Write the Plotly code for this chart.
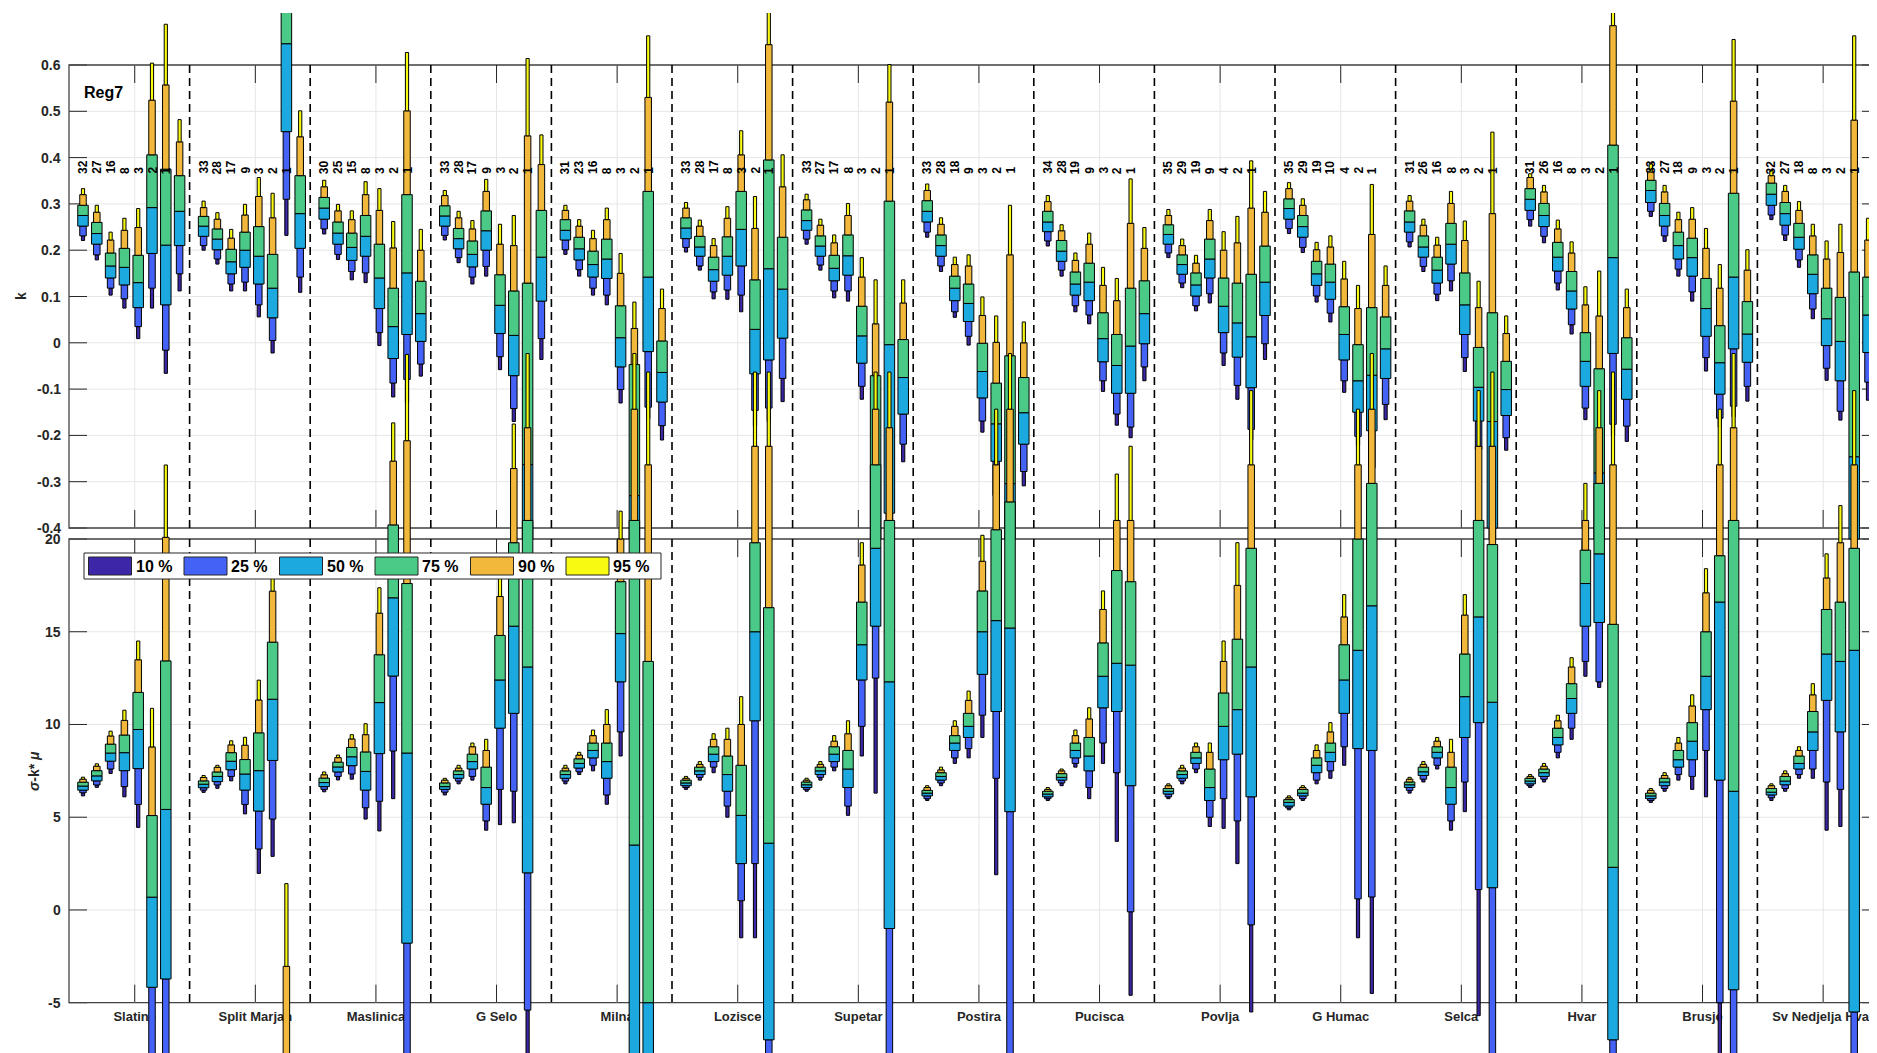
import plotly.graph_objects as go

# ---------------------------------------------------------------- data
stations = ['Slatine', 'Split Marjan', 'Maslinica', 'G Selo', 'Milna', 'Lozisce',
            'Supetar', 'Postira', 'Pucisca', 'Povlja', 'G Humac', 'Selca', 'Hvar',
            'Brusje', 'Sv Nedjelja Hvar']

counts = [[32, 27, 16, 8, 3, 2, 1], [33, 28, 17, 9, 3, 2, 1], [30, 25, 15, 8, 3, 2, 1],
          [33, 28, 17, 9, 3, 2, 1], [31, 23, 16, 8, 3, 2, 1], [33, 28, 17, 8, 3, 2, 1],
          [33, 27, 17, 8, 3, 2, 1], [33, 28, 18, 9, 3, 2, 1], [34, 28, 19, 9, 3, 2, 1],
          [35, 29, 19, 9, 4, 2, 1], [35, 29, 19, 10, 4, 2, 1], [31, 26, 16, 8, 3, 2, 1],
          [31, 26, 16, 8, 3, 2, 1], [33, 27, 18, 9, 3, 2, 1], [32, 27, 18, 8, 3, 2, 1]]

levels = ['10 %', '25 %', '50 %', '75 %', '90 %', '95 %']
k_ticks = [0.6, 0.5, 0.4, 0.3, 0.2, 0.1, 0, -0.1, -0.2, -0.3, -0.4]
s_ticks = [20, 15, 10, 5, 0, -5]

# each box: quantiles 5, 10, 25, 50, 75, 90, 95 %
# --- k (top panel), 8 boxes per station
k_slatine = [[0.221, 0.231, 0.252, 0.275, 0.297, 0.320, 0.333], [0.179, 0.190, 0.213, 0.236, 0.260, 0.282, 0.297],
             [0.103, 0.118, 0.140, 0.166, 0.194, 0.222, 0.239], [0.075, 0.095, 0.125, 0.163, 0.204, 0.243, 0.269],
             [0.009, 0.035, 0.076, 0.130, 0.189, 0.249, 0.290], [0.075, 0.118, 0.193, 0.292, 0.406, 0.524, 0.604],
             [-0.066, -0.016, 0.082, 0.211, 0.375, 0.557, 0.688], [0.112, 0.149, 0.210, 0.284, 0.361, 0.434, 0.482]]
k_split = [[0.200, 0.210, 0.230, 0.252, 0.273, 0.292, 0.306], [0.170, 0.181, 0.201, 0.224, 0.246, 0.267, 0.281],
           [0.112, 0.127, 0.149, 0.175, 0.202, 0.226, 0.245], [0.112, 0.131, 0.163, 0.200, 0.239, 0.276, 0.299],
           [0.056, 0.082, 0.127, 0.187, 0.251, 0.316, 0.357], [-0.022, 0.005, 0.054, 0.118, 0.191, 0.270, 0.323],
           [0.232, 0.310, 0.456, 0.646, 0.850, 0.950, 1.000], [0.109, 0.142, 0.204, 0.279, 0.361, 0.445, 0.501]]
k_maslinica = [[0.235, 0.246, 0.267, 0.291, 0.314, 0.337, 0.351], [0.180, 0.191, 0.213, 0.237, 0.261, 0.285, 0.299],
               [0.136, 0.154, 0.178, 0.206, 0.237, 0.266, 0.285], [0.130, 0.151, 0.187, 0.230, 0.275, 0.320, 0.348],
               [-0.006, 0.022, 0.074, 0.140, 0.213, 0.286, 0.333], [-0.117, -0.087, -0.034, 0.035, 0.118, 0.205, 0.262],
               [-0.130, -0.079, 0.018, 0.151, 0.320, 0.501, 0.627], [-0.072, -0.046, 0.003, 0.063, 0.133, 0.200, 0.245]]
k_gselo = [[0.222, 0.232, 0.252, 0.274, 0.296, 0.318, 0.329], [0.173, 0.184, 0.203, 0.225, 0.247, 0.270, 0.284],
           [0.127, 0.142, 0.164, 0.191, 0.220, 0.246, 0.264], [0.144, 0.165, 0.200, 0.242, 0.285, 0.327, 0.353],
           [-0.058, -0.030, 0.020, 0.081, 0.147, 0.213, 0.256], [-0.170, -0.142, -0.071, 0.016, 0.112, 0.210, 0.275],
           [-0.700, -0.600, -0.500, -0.263, 0.129, 0.447, 0.614], [-0.036, 0.009, 0.090, 0.185, 0.286, 0.385, 0.449]]
k_milna = [[0.191, 0.201, 0.222, 0.243, 0.266, 0.286, 0.297], [0.144, 0.158, 0.179, 0.203, 0.228, 0.252, 0.266],
           [0.103, 0.118, 0.142, 0.169, 0.198, 0.225, 0.243], [0.082, 0.103, 0.139, 0.181, 0.224, 0.266, 0.291],
           [-0.130, -0.101, -0.052, 0.011, 0.080, 0.150, 0.193], [-0.700, -0.600, -0.500, -0.330, -0.047, 0.031, 0.088],
           [-0.163, -0.139, -0.019, 0.142, 0.327, 0.530, 0.663], [-0.210, -0.179, -0.128, -0.064, 0.004, 0.074, 0.116]]
k_lozisce = [[0.196, 0.206, 0.225, 0.248, 0.270, 0.291, 0.303], [0.157, 0.166, 0.187, 0.207, 0.230, 0.252, 0.265],
             [0.095, 0.110, 0.133, 0.158, 0.185, 0.210, 0.225], [0.094, 0.114, 0.146, 0.187, 0.229, 0.269, 0.294],
             [0.067, 0.103, 0.166, 0.245, 0.327, 0.406, 0.458], [-0.180, -0.146, -0.067, 0.029, 0.136, 0.247, 0.316],
             [-0.170, -0.141, -0.037, 0.160, 0.395, 0.644, 0.750], [-0.127, -0.077, 0.010, 0.116, 0.228, 0.337, 0.406]]
k_supetar = [[0.213, 0.224, 0.243, 0.264, 0.287, 0.309, 0.321], [0.157, 0.168, 0.187, 0.209, 0.231, 0.254, 0.267],
             [0.097, 0.112, 0.134, 0.161, 0.189, 0.216, 0.233], [0.090, 0.112, 0.146, 0.188, 0.233, 0.275, 0.301],
             [-0.122, -0.094, -0.044, 0.015, 0.079, 0.142, 0.184], [-0.700, -0.600, -0.500, -0.285, -0.071, 0.041, 0.136],
             [-0.600, -0.500, -0.368, -0.004, 0.306, 0.520, 0.601], [-0.257, -0.219, -0.154, -0.075, 0.007, 0.086, 0.136]]
k_postira = [[0.228, 0.239, 0.261, 0.284, 0.307, 0.329, 0.343], [0.154, 0.166, 0.187, 0.210, 0.233, 0.256, 0.270],
             [0.055, 0.067, 0.091, 0.118, 0.144, 0.169, 0.185], [-0.005, 0.014, 0.046, 0.085, 0.127, 0.166, 0.190],
             [-0.193, -0.169, -0.119, -0.062, -0.001, 0.059, 0.099], [-0.370, -0.330, -0.256, -0.175, -0.087, 0.001, 0.058],
             [-0.700, -0.600, -0.500, -0.304, -0.028, 0.190, 0.297], [-0.309, -0.278, -0.219, -0.151, -0.075, 0.000, 0.045]]
k_pucisca = [[0.209, 0.220, 0.240, 0.261, 0.284, 0.305, 0.318], [0.144, 0.157, 0.176, 0.198, 0.221, 0.242, 0.255],
             [0.067, 0.080, 0.103, 0.127, 0.153, 0.178, 0.194], [0.041, 0.060, 0.091, 0.131, 0.172, 0.213, 0.237],
             [-0.105, -0.082, -0.041, 0.009, 0.065, 0.124, 0.163], [-0.178, -0.154, -0.109, -0.049, 0.018, 0.091, 0.139],
             [-0.205, -0.182, -0.109, -0.007, 0.118, 0.258, 0.354], [-0.082, -0.052, -0.002, 0.063, 0.134, 0.204, 0.249]]
k_povlja = [[0.184, 0.194, 0.213, 0.234, 0.255, 0.275, 0.288], [0.119, 0.129, 0.148, 0.169, 0.190, 0.210, 0.224],
            [0.069, 0.080, 0.101, 0.125, 0.151, 0.172, 0.189], [0.086, 0.106, 0.140, 0.181, 0.224, 0.264, 0.288],
            [-0.049, -0.022, 0.022, 0.079, 0.140, 0.200, 0.240], [-0.122, -0.092, -0.031, 0.043, 0.129, 0.216, 0.273],
            [-0.210, -0.187, -0.097, 0.013, 0.148, 0.291, 0.393], [-0.036, -0.002, 0.059, 0.131, 0.209, 0.282, 0.327]]
k_ghumac = [[0.236, 0.247, 0.267, 0.290, 0.311, 0.333, 0.346], [0.195, 0.206, 0.228, 0.251, 0.275, 0.297, 0.311],
            [0.088, 0.101, 0.124, 0.149, 0.176, 0.201, 0.217], [0.045, 0.064, 0.094, 0.131, 0.170, 0.207, 0.231],
            [-0.107, -0.082, -0.037, 0.018, 0.078, 0.138, 0.176], [-0.221, -0.202, -0.150, -0.082, -0.004, 0.074, 0.124],
            [-0.310, -0.270, -0.190, -0.070, 0.076, 0.234, 0.342], [-0.166, -0.133, -0.077, -0.013, 0.056, 0.124, 0.166]]
k_selca = [[0.207, 0.218, 0.239, 0.261, 0.285, 0.306, 0.318], [0.154, 0.165, 0.185, 0.207, 0.231, 0.254, 0.267],
           [0.091, 0.105, 0.129, 0.157, 0.185, 0.211, 0.228], [0.112, 0.134, 0.170, 0.213, 0.258, 0.301, 0.327],
           [-0.062, -0.032, 0.018, 0.082, 0.151, 0.221, 0.263], [-0.270, -0.230, -0.169, -0.096, -0.010, 0.076, 0.133],
           [-0.600, -0.500, -0.400, -0.170, 0.065, 0.279, 0.455], [-0.232, -0.205, -0.157, -0.101, -0.040, 0.020, 0.058]]
k_hvar = [[0.252, 0.266, 0.286, 0.310, 0.333, 0.357, 0.365], [0.216, 0.230, 0.251, 0.275, 0.301, 0.326, 0.340],
          [0.114, 0.129, 0.155, 0.185, 0.217, 0.246, 0.265], [0.019, 0.039, 0.073, 0.112, 0.154, 0.194, 0.218],
          [-0.166, -0.141, -0.094, -0.040, 0.022, 0.082, 0.121], [-0.700, -0.600, -0.500, -0.281, -0.056, 0.058, 0.155],
          [-0.200, -0.176, -0.023, 0.184, 0.427, 0.685, 0.750], [-0.213, -0.180, -0.122, -0.057, 0.011, 0.076, 0.116]]
k_brusje = [[0.273, 0.284, 0.303, 0.329, 0.351, 0.369, 0.387], [0.219, 0.231, 0.252, 0.275, 0.301, 0.326, 0.340],
            [0.144, 0.159, 0.181, 0.210, 0.239, 0.266, 0.282], [0.090, 0.110, 0.144, 0.184, 0.226, 0.267, 0.292],
            [-0.061, -0.032, 0.014, 0.074, 0.139, 0.204, 0.247], [-0.182, -0.163, -0.111, -0.043, 0.037, 0.118, 0.169],
            [-0.160, -0.137, -0.013, 0.142, 0.323, 0.522, 0.655], [-0.126, -0.094, -0.042, 0.019, 0.089, 0.157, 0.201]]
k_svnedjelja = [[0.266, 0.276, 0.297, 0.321, 0.345, 0.361, 0.372], [0.221, 0.233, 0.254, 0.279, 0.303, 0.327, 0.340],
                [0.163, 0.179, 0.202, 0.228, 0.258, 0.286, 0.305], [0.052, 0.073, 0.106, 0.148, 0.190, 0.231, 0.256],
                [-0.081, -0.055, -0.006, 0.052, 0.118, 0.181, 0.220], [-0.167, -0.148, -0.082, 0.003, 0.098, 0.195, 0.256],
                [-0.700, -0.600, -0.500, -0.246, 0.153, 0.481, 0.663], [-0.124, -0.085, -0.021, 0.060, 0.142, 0.222, 0.269]]

# --- sigma - k*mu (bottom panel), 7 boxes per station
s_slatine = [[6.15, 6.32, 6.46, 6.68, 6.89, 7.05, 7.16], [6.61, 6.74, 6.96, 7.23, 7.51, 7.75, 7.88],
             [7.36, 7.60, 8.02, 8.46, 8.94, 9.38, 9.64], [6.10, 6.65, 7.51, 8.48, 9.43, 10.22, 10.77],
             [4.45, 5.69, 7.62, 9.73, 11.73, 13.49, 14.50], [-9.0, -8.0, -4.17, 0.69, 5.09, 8.79, 10.87],
             [-9.0, -8.0, -3.72, 5.42, 13.43, 20.09, 23.99]]
s_split = [[6.34, 6.46, 6.59, 6.78, 6.96, 7.14, 7.25], [6.56, 6.74, 6.92, 7.20, 7.44, 7.69, 7.80],
           [6.96, 7.20, 7.56, 8.02, 8.48, 8.90, 9.12], [5.18, 5.69, 6.46, 7.33, 8.11, 8.88, 9.31],
           [1.97, 3.29, 5.33, 7.51, 9.55, 11.32, 12.39], [2.89, 4.90, 8.06, 11.36, 14.44, 17.19, 17.93],
           [-12.0, -11.0, -10.0, -9.0, -8.5, -3.04, 1.42]]
s_maslinica = [[6.37, 6.50, 6.65, 6.87, 7.11, 7.29, 7.44], [7.01, 7.20, 7.44, 7.71, 7.97, 8.21, 8.35],
               [7.05, 7.33, 7.78, 8.26, 8.76, 9.22, 9.45], [4.90, 5.51, 6.46, 7.47, 8.52, 9.45, 10.04],
               [4.26, 5.86, 8.43, 11.18, 13.76, 16.00, 17.37], [6.00, 8.57, 12.61, 16.83, 20.76, 24.20, 26.26],
               [-9.0, -8.0, -1.79, 8.46, 17.60, 25.30, 29.95]]
s_gselo = [[6.20, 6.35, 6.50, 6.65, 6.85, 7.00, 7.10], [6.80, 6.95, 7.10, 7.30, 7.50, 7.65, 7.80],
           [7.00, 7.20, 7.60, 8.00, 8.40, 8.80, 9.00], [4.30, 4.80, 5.70, 6.60, 7.70, 8.60, 9.20],
           [4.60, 6.50, 9.80, 12.40, 14.80, 16.90, 18.10], [4.70, 6.40, 10.60, 15.30, 19.80, 23.80, 26.20],
           [-8.0, -5.40, 2.00, 13.10, 21.00, 26.00, 30.00]]
s_milna = [[6.80, 6.95, 7.10, 7.30, 7.50, 7.65, 7.80], [7.30, 7.45, 7.65, 7.90, 8.15, 8.35, 8.50],
           [7.50, 7.80, 8.20, 8.60, 9.00, 9.40, 9.70], [5.70, 6.20, 7.10, 8.00, 9.00, 10.00, 10.80],
           [8.30, 9.60, 12.30, 14.90, 17.70, 20.00, 21.50], [-11.0, -10.0, -9.00, 3.50, 21.00, 27.00, 30.00],
           [-11.0, -10.0, -9.00, -5.00, 13.40, 24.00, 29.00]]
s_lozisce = [[6.50, 6.60, 6.70, 6.85, 7.00, 7.10, 7.20], [7.00, 7.15, 7.30, 7.50, 7.70, 7.85, 8.00],
             [7.40, 7.70, 8.00, 8.40, 8.80, 9.20, 9.50], [5.00, 5.60, 6.40, 7.30, 8.30, 9.20, 9.80],
             [-1.50, 0.50, 2.50, 5.10, 7.80, 10.00, 11.50], [-1.50, 2.50, 10.20, 15.00, 19.80, 25.00, 29.00],
             [-9.0, -8.0, -7.00, 3.60, 16.30, 25.00, 29.00]]
s_supetar = [[6.40, 6.50, 6.60, 6.75, 6.90, 7.00, 7.10], [7.00, 7.15, 7.30, 7.50, 7.70, 7.85, 8.00],
             [7.50, 7.70, 8.00, 8.40, 8.80, 9.10, 9.40], [5.10, 5.60, 6.60, 7.60, 8.60, 9.50, 10.20],
             [8.30, 9.90, 12.40, 14.30, 16.60, 18.60, 19.80], [6.30, 12.50, 15.30, 19.50, 24.00, 27.00, 29.00],
             [-9.0, -8.0, -1.00, 12.30, 21.00, 26.00, 29.00]]
s_postira = [[5.90, 6.00, 6.15, 6.30, 6.45, 6.60, 6.70], [6.70, 6.85, 7.00, 7.20, 7.40, 7.55, 7.70],
             [7.90, 8.20, 8.60, 9.00, 9.40, 9.90, 10.20], [8.20, 8.70, 9.30, 9.90, 10.60, 11.30, 11.80],
             [9.30, 10.50, 12.70, 15.00, 17.20, 18.80, 20.20], [1.90, 7.10, 10.70, 15.60, 20.50, 24.00, 27.00],
             [-9.0, -8.0, 5.30, 15.20, 22.00, 27.00, 30.00]]
s_pucisca = [[5.90, 6.00, 6.10, 6.25, 6.40, 6.50, 6.60], [6.70, 6.85, 7.00, 7.15, 7.35, 7.50, 7.60],
             [7.70, 7.90, 8.20, 8.60, 9.00, 9.40, 9.70], [6.00, 6.60, 7.50, 8.30, 9.30, 10.30, 10.90],
             [7.90, 9.00, 10.90, 12.60, 14.40, 16.20, 17.20], [3.70, 7.40, 10.70, 13.30, 18.30, 21.00, 23.50],
             [-4.60, -0.10, 6.70, 13.20, 17.70, 21.00, 25.00]]
s_povlja = [[6.00, 6.10, 6.25, 6.40, 6.55, 6.70, 6.80], [6.80, 6.95, 7.10, 7.30, 7.50, 7.65, 7.80],
            [7.40, 7.60, 7.90, 8.20, 8.50, 8.80, 9.00], [4.50, 5.00, 5.90, 6.60, 7.60, 8.50, 9.00],
            [4.40, 6.00, 8.10, 9.90, 11.70, 13.40, 14.50], [2.50, 4.80, 8.40, 10.80, 14.60, 17.50, 19.80],
            [-5.50, -0.80, 6.10, 13.10, 19.50, 24.00, 28.00]]
s_ghumac = [[5.40, 5.50, 5.60, 5.80, 5.95, 6.05, 6.15], [5.90, 6.00, 6.15, 6.30, 6.50, 6.60, 6.70],
            [6.80, 7.00, 7.40, 7.80, 8.20, 8.60, 8.90], [7.10, 7.50, 8.00, 8.50, 9.00, 9.60, 10.10],
            [7.80, 8.80, 10.60, 12.40, 14.30, 15.80, 17.00], [-1.50, 0.60, 8.70, 14.00, 20.00, 24.00, 27.00],
            [-4.50, 0.70, 8.60, 16.40, 23.00, 27.00, 30.00]]
s_selca = [[6.30, 6.45, 6.60, 6.75, 6.90, 7.05, 7.15], [6.90, 7.05, 7.25, 7.45, 7.70, 7.85, 8.00],
           [7.60, 7.80, 8.20, 8.50, 8.80, 9.10, 9.30], [4.30, 4.80, 5.70, 6.60, 7.70, 8.50, 9.20],
           [5.30, 6.90, 9.30, 11.50, 13.80, 15.90, 17.00], [-5.70, 1.10, 10.10, 15.80, 21.00, 25.00, 28.00],
           [-9.0, -8.0, 1.20, 11.20, 19.70, 25.00, 29.00]]
s_hvar = [[6.60, 6.70, 6.80, 6.95, 7.10, 7.20, 7.30], [6.90, 7.05, 7.20, 7.40, 7.60, 7.75, 7.90],
          [8.20, 8.50, 8.90, 9.30, 9.80, 10.20, 10.50], [9.20, 9.80, 10.60, 11.40, 12.20, 13.10, 13.60],
          [12.60, 13.40, 15.30, 17.60, 19.40, 21.00, 23.00], [12.00, 12.30, 15.50, 19.20, 23.00, 26.00, 28.00],
          [-9.0, -8.0, -7.00, 2.30, 15.40, 24.00, 29.00]]
s_brusje = [[5.80, 5.90, 6.00, 6.15, 6.30, 6.45, 6.55], [6.40, 6.55, 6.70, 6.90, 7.10, 7.25, 7.40],
            [7.00, 7.30, 7.70, 8.10, 8.60, 9.00, 9.30], [6.50, 7.20, 8.10, 9.10, 10.10, 11.00, 11.60],
            [6.10, 8.60, 10.80, 12.60, 15.00, 17.10, 18.40], [-9.0, -5.00, 7.00, 16.60, 19.10, 24.00, 27.00],
            [-9.0, -8.0, -4.30, 6.40, 21.00, 26.00, 30.00]]
s_svnedjelja = [[5.90, 6.05, 6.20, 6.35, 6.55, 6.70, 6.80], [6.40, 6.55, 6.75, 6.95, 7.20, 7.35, 7.50],
                [7.10, 7.30, 7.60, 7.90, 8.30, 8.60, 8.80], [7.10, 7.60, 8.60, 9.60, 10.70, 11.60, 12.20],
                [4.30, 6.90, 11.30, 13.80, 16.20, 17.90, 19.20], [4.50, 6.50, 9.60, 13.40, 16.60, 19.80, 21.80],
                [-9.0, -8.0, -5.50, 14.00, 19.50, 24.00, 28.00]]

k_panel = [k_slatine, k_split, k_maslinica, k_gselo, k_milna, k_lozisce, k_supetar, k_postira,
           k_pucisca, k_povlja, k_ghumac, k_selca, k_hvar, k_brusje, k_svnedjelja]
s_panel = [s_slatine, s_split, s_maslinica, s_gselo, s_milna, s_lozisce, s_supetar, s_postira,
           s_pucisca, s_povlja, s_ghumac, s_selca, s_hvar, s_brusje, s_svnedjelja]

# ---------------------------------------------------------------- geometry (page pixels)
PW, PH = 1877, 1053            # browser window
OFF = 8                        # default body margin of the html page
FW, FH = PW - OFF, PH - OFF    # figure size so it ends at the window edge
CLIP_TOP = 13                  # page row where everything is cut off at the top
X0, SW = 69.0, 120.6           # left frame, width of one station block
colors = ['#3d26a8', '#4562f6', '#1ca9df', '#4bc986', '#f1b83b', '#f8fa12']
seg_px = [3.2, 6.5, 10.5, 10.5, 6.5, 3.2]
FONT = 'Liberation Sans, Arial, sans-serif'
INK = '#262626'
GRID = '#e6e6e6'


def k_at(py):      # page row -> k value
    return 0.6 - (py - 65.0) / 463.0


def s_at(py):      # page row -> sigma-k*mu value
    return 20 - (py - 539.0) * 25.0 / 463.7


def u_at(px):      # page column -> x data
    return (px - X0) / SW


def pxp(px):       # page column -> paper x
    return (px - OFF) / FW


def pyp(py):       # page row -> paper y
    return 1 - (py - CLIP_TOP) / (PH - CLIP_TOP)


def box_x(s, k):
    return s + (14 + 13.8 * k) / SW


fig = go.Figure()

# station names sit under everything drawn on the lower panel
fig.add_trace(go.Scatter(x=[s + 0.545 for s in range(15)], y=[k_at(1018)] * 15, mode='text',
                         text=['<b>%s</b>' % n for n in stations],
                         textfont=dict(family=FONT, size=13, color=INK),
                         showlegend=False, hoverinfo='skip', xaxis='x', yaxis='y'))


def add_panel(data, nbox, yaxis, floor=None):
    for i in range(6):
        xs, base, hh = [], [], []
        for s, boxes in enumerate(data):
            for k, q in enumerate(boxes[:nbox]):
                lo, hi = q[i], q[i + 1]
                if floor is not None:
                    lo, hi = max(lo, floor), max(hi, floor)
                if hi - lo <= 0:
                    continue
                xs.append(box_x(s, k))
                base.append(lo)
                hh.append(hi - lo)
        fig.add_trace(go.Bar(x=xs, y=hh, base=base, width=seg_px[i] / SW,
                             marker=dict(color=colors[i], line=dict(color='black', width=1)),
                             xaxis='x', yaxis=yaxis, showlegend=False, hoverinfo='skip'))


add_panel(k_panel, 8, 'y', floor=k_at(539))
add_panel(s_panel, 7, 'y2')

# ---------------------------------------------------------------- frames, grids, ticks
shapes = []


def ln(x0, y0, x1, y1, xref, yref, color=INK, width=1, dash=None, layer='below'):
    d = dict(color=color, width=width)
    if dash:
        d['dash'] = dash
    shapes.append(dict(type='line', x0=x0, y0=y0, x1=x1, y1=y1, xref=xref, yref=yref,
                       line=d, layer=layer))


for v in k_ticks:
    ln(pxp(X0), v, 1.0, v, 'paper', 'y', GRID)
for v in s_ticks:
    ln(pxp(X0), v, 1.0, v, 'paper', 'y2', GRID)
for s in range(15):
    xv = s + 0.545
    ln(xv, -0.4, xv, 0.6, 'x', 'y', GRID)
    ln(xv, -5, xv, 20, 'x', 'y2', GRID)
    # inward ticks on top and bottom edges of both frames
    ln(xv, 0.6, xv, 0.6 - 18 / 463.0, 'x', 'y')
    ln(xv, -0.4, xv, -0.4 + 18 / 463.0, 'x', 'y')
    ln(xv, 20, xv, 20 - 18 * 25 / 463.7, 'x', 'y2')
    ln(xv, -5, xv, -5 + 18 * 25 / 463.7, 'x', 'y2')
for s in range(1, 15):
    ln(s, 0.6, s, -0.4, 'x', 'y', 'black', 1.6, dash='8px,5px')
    ln(s, 20, s, -5, 'x', 'y2', 'black', 1.6, dash='8px,5px')
for v in k_ticks:
    ln(pxp(X0), v, pxp(X0 + 18), v, 'paper', 'y')
    ln(pxp(1862), v, 1.0, v, 'paper', 'y')
for v in s_ticks:
    ln(pxp(X0), v, pxp(X0 + 18), v, 'paper', 'y2')
    ln(pxp(1862), v, 1.0, v, 'paper', 'y2')
for yref, lo, hi in (('y', -0.4, 0.6), ('y2', -5, 20)):
    shapes.append(dict(type='rect', x0=pxp(X0), x1=1.01, y0=lo, y1=hi, xref='paper', yref=yref,
                       line=dict(color='#444444', width=1.3), fillcolor='rgba(0,0,0,0)', layer='below'))

# ---------------------------------------------------------------- legend (drawn by hand)
shapes.append(dict(type='rect', x0=pxp(84), x1=pxp(661), y0=pyp(579), y1=pyp(553),
                   xref='paper', yref='paper', fillcolor='white', line=dict(color=INK, width=1),
                   layer='above'))
annotations = []
for i, lab in enumerate(levels):
    x0 = 88.5 + 95.5 * i
    shapes.append(dict(type='rect', x0=pxp(x0), x1=pxp(x0 + 43), y0=pyp(575), y1=pyp(557),
                       xref='paper', yref='paper', fillcolor=colors[i],
                       line=dict(color=INK, width=1), layer='above'))
    annotations.append(dict(x=pxp(x0 + 45), y=pyp(566.5), xref='paper', yref='paper',
                            text='<b>%s</b>' % lab, showarrow=False, xanchor='left',
                            yanchor='middle', font=dict(family=FONT, size=16, color='black')))

# ---------------------------------------------------------------- text
for v in k_ticks:
    annotations.append(dict(x=pxp(63), y=v, xref='paper', yref='y', text='<b>%g</b>' % v,
                            showarrow=False, xanchor='right', yanchor='middle',
                            font=dict(family=FONT, size=14, color=INK)))
for v in s_ticks:
    annotations.append(dict(x=pxp(63), y=v, xref='paper', yref='y2', text='<b>%g</b>' % v,
                            showarrow=False, xanchor='right', yanchor='middle',
                            font=dict(family=FONT, size=14, color=INK)))
for s, row in enumerate(counts):
    for k, n in enumerate(row):
        annotations.append(dict(x=box_x(s, k), y=k_at(176), xref='x', yref='y', text='<b>%d</b>' % n,
                                textangle=-90, showarrow=False, xanchor='center', yanchor='bottom',
                                font=dict(family=FONT, size=12, color='black')))
annotations.append(dict(x=pxp(21), y=pyp(296), xref='paper', yref='paper', text='<b>k</b>',
                        textangle=-90, showarrow=False, xanchor='center', yanchor='middle',
                        font=dict(family=FONT, size=14, color=INK)))
annotations.append(dict(x=pxp(34), y=pyp(771), xref='paper', yref='paper',
                        text='<b><i>σ</i>-k* <i>μ</i></b>', textangle=-90, showarrow=False,
                        xanchor='center', yanchor='middle',
                        font=dict(family=FONT, size=14, color=INK)))
annotations.append(dict(x=pxp(82), y=pyp(93), xref='paper', yref='paper', text='<b>Reg7</b>',
                        showarrow=False, xanchor='left', yanchor='middle',
                        font=dict(family=FONT, size=16, color='black')))

fig.update_layout(
    width=FW, height=FH,
    margin=dict(l=0, r=0, t=CLIP_TOP - OFF, b=0, pad=0),
    paper_bgcolor='white', plot_bgcolor='rgba(0,0,0,0)',
    barmode='overlay', showlegend=False,
    xaxis=dict(range=[u_at(OFF), u_at(PW)], visible=False, fixedrange=True),
    yaxis=dict(range=[k_at(PH), k_at(CLIP_TOP)], visible=False, fixedrange=True),
    yaxis2=dict(range=[s_at(PH), s_at(CLIP_TOP)], visible=False, overlaying='y', fixedrange=True),
    shapes=shapes, annotations=annotations,
)

fig.write_html("out.html")
